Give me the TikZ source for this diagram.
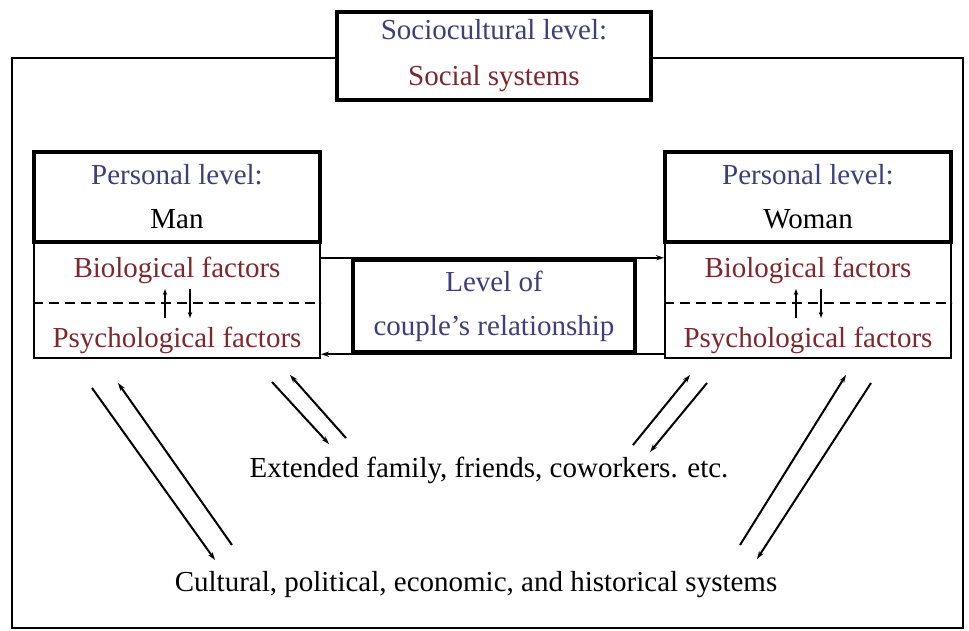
\documentclass[tikz,border=0pt]{standalone}
\usepackage{fontspec}
\setmainfont{Liberation Serif}
\usetikzlibrary{arrows.meta}
\definecolor{lvlblue}{RGB}{62,62,125}
\definecolor{factred}{RGB}{125,40,45}

\begin{document}
\begin{tikzpicture}[
    x=0.5pt, y=-0.5pt,
    font=\fontsize{14.5}{22}\selectfont,
    heavybox/.style={draw, line width=2.2pt, fill=white, inner sep=0pt, align=center},
    thinbox/.style={draw, line width=1pt, minimum width=143pt, minimum height=58pt, inner sep=0pt},
    factor/.style={text=factred, inner sep=0pt},
    divider/.style={dashed, line width=1pt, dash pattern=on 5pt off 3pt},
    link/.style={line width=1pt, -{Stealth[length=4pt,width=2.6pt]}},
    tiny/.style={line width=1pt, -{Stealth[length=3pt,width=2.2pt]}},
]
\useasboundingbox (0,0) rectangle (969,631);

% ---- outer frame ----
\draw[line width=1pt] (12,58) rectangle (963,628);

% ---- sociocultural level ----
\node[heavybox, minimum width=157pt, minimum height=44pt] (social) at (494,56)
  {\textcolor{lvlblue}{Sociocultural level:}\\[1pt] \textcolor{factred}{Social systems}};

% ---- personal levels ----
\foreach \s/\cx/\who in {man/177/Man, wom/808/Woman} {
  \node[heavybox, minimum width=143pt, minimum height=45pt] (\s-box) at (\cx,197)
    {\textcolor{lvlblue}{Personal level:}\\ \who};
  \node[thinbox] (\s-fac) at (\cx,300) {};
  \node[factor] (\s-bio) at (\cx,270) {Biological factors};
  \node[factor] (\s-psy) at (\cx,340) {Psychological factors};
  \coordinate (\s-mid) at (\cx,303);
  \draw[divider] (\s-fac.west |- \s-mid) -- (\s-fac.east |- \s-mid);
  \draw[tiny] ([shift={(-12,15)}]\s-mid) -- ([shift={(-12,-14)}]\s-mid);
  \draw[tiny] ([shift={(13,-14)}]\s-mid) -- ([shift={(13,15)}]\s-mid);
}

% ---- couple's relationship ----
\node[heavybox, minimum width=141pt, minimum height=46pt, text=lvlblue] (couple) at (494,306)
  {Level of\\ couple's relationship};
\draw[link] (man-fac.east |- couple.north) -- (wom-fac.west |- couple.north);
\draw[link] (wom-fac.west |- couple.south) -- (man-fac.east |- couple.south);

% ---- outer systems ----
\node (ext) at (489,470) {Extended family, friends, coworkers. etc.};
\node (cult) at (476,585) {Cultural, political, economic, and historical systems};

% ---- diagonal arrows ----
\foreach \i/\sx/\sy/\ex/\ey in {1/92/388/215/560, 2/232/545/118/383,
    3/272/382/329/444, 4/346/438/290/375, 5/633/445/690/375,
    6/707/383/650/452, 7/740/545/846/375, 8/871/383/757/559} {
  \coordinate (d\i-s) at (\sx,\sy);
  \coordinate (d\i-e) at (\ex,\ey);
  \draw[link] (d\i-s) -- (d\i-e);
}

\end{tikzpicture}
\end{document}
